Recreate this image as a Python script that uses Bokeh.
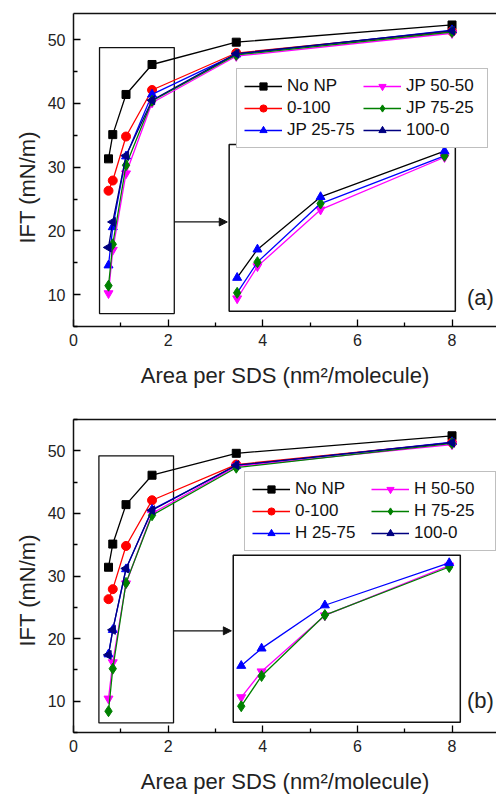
import math
from bokeh.plotting import figure
from bokeh.layouts import column
from bokeh.models import (Range1d, LinearAxis, FixedTicker, Legend, LegendItem,
                          BoxAnnotation, Arrow, NormalHead, Label, Title)
from bokeh.embed import file_html
from bokeh.resources import INLINE

# ---------------- data ----------------
area = [0.74, 0.83, 1.11, 1.66, 3.44, 8.0]

a_labels = ["No NP", "0-100", "JP 25-75", "JP 50-50", "JP 75-25", "100-0"]
a_no_np = [31.3, 35.1, 41.4, 46.1, 49.6, 52.3]
a_0_100 = [26.3, 27.9, 34.8, 42.1, 47.9, 51.3]
a_jp_25_75 = [14.6, 20.6, 31.7, 41.4, 47.7, 51.5]
a_jp_50_50 = [10.2, 17.0, 29.0, 40.1, 47.4, 51.0]
a_jp_75_25 = [11.4, 17.9, 30.3, 40.4, 47.6, 51.2]
a_100_0 = [17.4, 21.4, 31.8, 40.5, 47.8, 51.4]

b_labels = ["No NP", "0-100", "H 25-75", "H 50-50", "H 75-25", "100-0"]
b_no_np = [31.4, 35.1, 41.4, 46.1, 49.6, 52.4]
b_0_100 = [26.3, 27.9, 34.8, 42.1, 47.8, 51.3]
b_h_25_75 = [17.5, 21.4, 31.1, 40.6, 47.6, 51.4]
b_h_50_50 = [10.4, 16.2, 28.8, 40.0, 47.5, 51.0]
b_h_75_25 = [8.4, 15.2, 28.9, 39.7, 47.3, 51.2]
b_100_0 = [17.4, 21.4, 31.2, 40.5, 47.7, 51.3]

n_inset = 4  # inset shows the first four points

x_ticks = [0, 2, 4, 6, 8]
y_ticks = [10, 20, 30, 40, 50]
x_title = "Area per SDS (nm²/molecule)"
y_title = "IFT (mN/m)"

FONT = "Liberation Sans"
COLORS = ["#000000", "#ff0000", "#0000ff", "#ff00ff", "#008000", "#000080"]
MARKERS = ["square", "circle", "triangle", "inverted_triangle", "diamond", "triangle"]
MSIZE = [8, 9, 9, 9, 11, 9]
ANGLES = [0, 0, 0, 0, 0, math.pi / 2]


def make_panel(series, labels, height, top, bottom, y_end, legend_loc,
               zoom_box, inset_box, inset_win, arrow_y, tag, tag_y, inset_spec, ytitle_off):
    x_end = 8.94
    p = figure(width=496, height=height, output_backend="svg", toolbar_location=None,
               x_range=Range1d(0, x_end), y_range=Range1d(5, y_end),
               min_border_left=73, min_border_right=0,
               min_border_top=top, min_border_bottom=bottom,
               background_fill_color="white", border_fill_color="white")
    p.outline_line_color = None
    p.grid.visible = False

    for ax in (p.xaxis[0], p.yaxis[0]):
        ax.axis_line_width = 1.5
        ax.axis_line_color = "#111111"
        ax.major_tick_in = 7
        ax.major_tick_out = 0
        ax.minor_tick_in = 4
        ax.minor_tick_out = 0
        ax.major_tick_line_width = 1.3
        ax.minor_tick_line_width = 1.3
        ax.major_label_text_font = FONT
        ax.major_label_text_font_size = "16px"
        ax.major_label_text_color = "#222222"
        ax.axis_label_text_font = FONT
        ax.axis_label_text_font_size = "22px"
        ax.axis_label_text_font_style = "normal"
        ax.axis_label_text_color = "#222222"
    p.xaxis.ticker = FixedTicker(ticks=x_ticks, minor_ticks=[1, 3, 5, 7])
    p.yaxis.ticker = FixedTicker(ticks=y_ticks, minor_ticks=[5, 15, 25, 35, 45, 55])
    p.xaxis.axis_label = x_title
    p.xaxis.major_label_standoff = 7
    p.xaxis.axis_label_standoff = 14
    p.yaxis.major_label_standoff = 8

    # y title as a side title, starting a fixed distance above the frame bottom
    p.add_layout(Title(text=y_title, align="left", offset=ytitle_off, standoff=10,
                       text_font=FONT, text_font_size="22px", text_font_style="normal",
                       text_color="#222222"), "left")

    top_ax = LinearAxis(ticker=FixedTicker(ticks=[]), axis_line_width=1.5,
                        axis_line_color="#111111", major_tick_in=0, major_tick_out=0,
                        minor_tick_in=0, minor_tick_out=0,
                        major_label_text_font_size="0px")
    p.add_layout(top_ax, "above")

    # zoom rectangle, inset frame and arrow
    zx0, zx1, zy0, zy1 = zoom_box
    p.add_layout(BoxAnnotation(left=zx0, right=zx1, bottom=zy0, top=zy1,
                               fill_alpha=0, line_color="#111111", line_alpha=1,
                               line_width=1.3, level="underlay"))
    bx0, bx1, by0, by1 = inset_box
    p.add_layout(BoxAnnotation(left=bx0, right=bx1, bottom=by0, top=by1,
                               fill_alpha=0, line_color="#111111", line_alpha=1,
                               line_width=1.5, level="underlay"))
    p.add_layout(Arrow(end=NormalHead(size=8, fill_color="#111111", line_color="#111111"),
                       x_start=zx1, y_start=arrow_y, x_end=bx0 - 0.04, y_end=arrow_y,
                       line_color="#111111", line_width=1.2))

    items = []
    for i, (ys, lab) in enumerate(zip(series, labels)):
        l = p.line(area, ys, line_color=COLORS[i], line_width=1.3)
        s = p.scatter(area, ys, marker=MARKERS[i], size=MSIZE[i], angle=ANGLES[i],
                      fill_color=COLORS[i], line_color=COLORS[i])
        items.append(LegendItem(label=lab, renderers=[l, s]))

    legend = Legend(items=items, location=legend_loc, orientation="vertical", nrows=3,
                    glyph_width=38, glyph_height=18, label_height=18, label_width=74,
                    label_standoff=5, spacing=2, padding=7, margin=0,
                    label_text_font=FONT, label_text_font_size="17px",
                    label_text_color="#111111",
                    border_line_color="#7f7f7f", border_line_width=1.3,
                    background_fill_color="white", background_fill_alpha=1)
    p.add_layout(legend)

    # inset coordinate system through extra ranges
    dx0, dx1, dy0, dy1 = inset_win
    kx = (dx1 - dx0) / (bx1 - bx0)
    ky = (dy1 - dy0) / (by1 - by0)
    p.extra_x_ranges = {"ix": Range1d(dx0 - bx0 * kx, dx0 + (x_end - bx0) * kx)}
    p.extra_y_ranges = {"iy": Range1d(dy0 - (by0 - 5) * ky, dy0 + (y_end - by0) * ky)}
    for ys, lc, mk, mc, ms in inset_spec:
        p.line(area[:n_inset], ys[:n_inset], line_color=lc, line_width=1.3,
               x_range_name="ix", y_range_name="iy")
        p.scatter(area[:n_inset], ys[:n_inset], marker=mk, size=ms, fill_color=mc,
                  line_color=mc, x_range_name="ix", y_range_name="iy")

    p.add_layout(Label(x=8.6, y=tag_y, text=tag, text_align="center",
                       text_baseline="middle", text_font=FONT, text_font_size="22px",
                       text_color="#222222"))
    return p


p1 = make_panel([a_no_np, a_0_100, a_jp_25_75, a_jp_50_50, a_jp_75_25, a_100_0],
                a_labels, 400, 13, 74, 54.1, (163, 178),
                (0.55, 2.13, 7.03, 48.75), (3.29, 8.07, 7.39, 33.55),
                (0.7045, 1.708, 7.5, 42.8), 21.4, "(a)", 9.6,
                [(a_jp_50_50, "#ff00ff", "inverted_triangle", "#ff00ff", 9),
                 (a_jp_75_25, "#0000ff", "diamond", "#008000", 11),
                 (a_jp_25_75, "#000000", "triangle", "#0000ff", 9)], 83)

p2 = make_panel([b_no_np, b_0_100, b_h_25_75, b_h_50_50, b_h_75_25, b_100_0],
                b_labels, 397, 19, 65, 55.0, (171, 181),
                (0.537, 2.114, 6.53, 49.2), (3.376, 8.175, 6.64, 33.33),
                (0.7046, 1.709, 4.8, 42.36), 21.24, "(b)", 10.05,
                [(b_h_50_50, "#ff00ff", "inverted_triangle", "#ff00ff", 9),
                 (b_h_75_25, "#008000", "diamond", "#008000", 11),
                 (b_h_25_75, "#0000ff", "triangle", "#0000ff", 9)], 86)

layout = column(p1, p2, spacing=0)
open("out.html", "w").write(file_html(layout, INLINE))
